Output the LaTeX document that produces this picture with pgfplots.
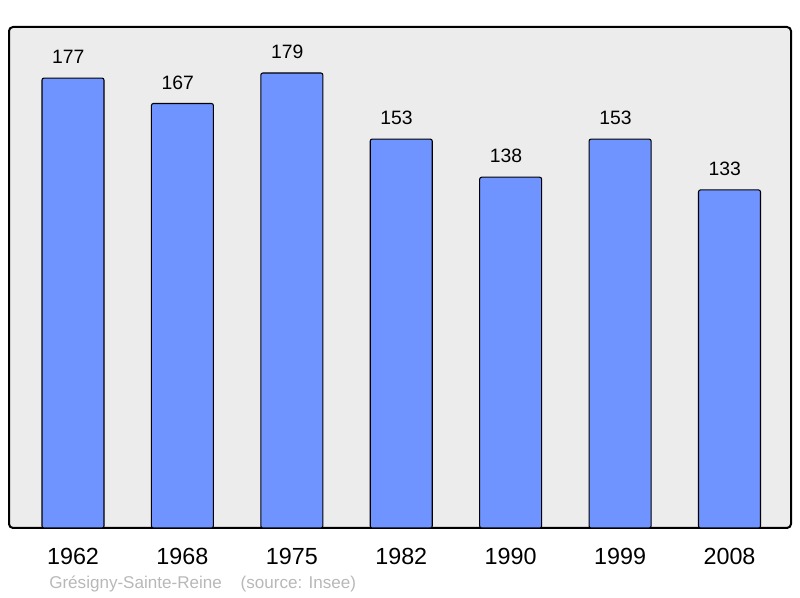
\documentclass[border=0pt]{standalone}
\usepackage{pgfplots}
\pgfplotsset{compat=1.18}
\usepackage{fontspec}
\setmainfont{Liberation Sans}
\definecolor{barblue}{HTML}{7094FF}
\definecolor{panel}{HTML}{ECECEC}
\definecolor{foot}{HTML}{B8B8B8}
\begin{document}
\begin{tikzpicture}
% page is 800 x 598 px, 1px = 0.75pt
\path (0pt,0pt) rectangle (600pt,448.5pt);
\begin{axis}[
  at={(6.75pt,52.5pt)}, anchor=south west,
  scale only axis,
  width=586.5pt, height=375.75pt,
  ybar, bar width=46.5pt,
  ymin=0, ymax=197.1,
  xmin=-0.585, xmax=6.562,
  xtick=data,
  xticklabels={1962,1968,1975,1982,1990,1999,2008},
  xticklabel style={anchor=center, yshift=-21pt, font=\fontsize{17.5}{19}\selectfont},
  ytick=\empty,
  major tick length=0pt,
  axis line style={draw=none},
  axis background/.style={fill=panel, draw=black, line width=1.5pt, rounded corners=3pt},
  /pgf/number format/assume math mode=true,
  nodes near coords,
  nodes near coords style={anchor=center, xshift=-3.5pt, yshift=15.75pt, font=\fontsize{14.5}{16}\selectfont},
  clip=false,
]
\addplot[fill=barblue, draw=black, line width=0.8pt, rounded corners=1.5pt]
  coordinates {(0,177) (1,167) (2,179) (3,153) (4,138) (5,153) (6,133)};
\end{axis}
\node[anchor=west, inner sep=0pt, text=foot, font=\fontsize{12.8}{14}\selectfont]
  at (36.75pt,10.5pt) {Grésigny-Sainte-Reine\hspace{1.1em}(source: Insee)};
\end{tikzpicture}
\end{document}
